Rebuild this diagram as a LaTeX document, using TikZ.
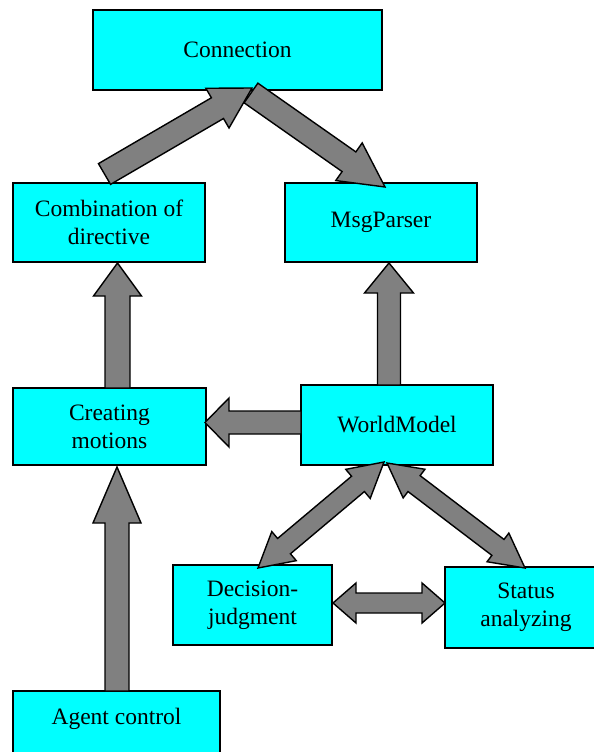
\documentclass[tikz,border=0pt]{standalone}
\usepackage{fontspec}
\setmainfont{Liberation Serif}
\usetikzlibrary{calc}
\definecolor{boxcyan}{HTML}{00FFFF}
\definecolor{arrgray}{HTML}{808080}
\tikzset{
  box/.style={draw=black, line width=1.8pt, fill=boxcyan, inner sep=0pt, align=center,
    font=\fontsize{23.5}{28}\selectfont},
  fatarrow/.style={draw=black, line width=1.4pt, fill=arrgray, line join=miter},
}
\newcommand\blockarrow[5]{%
  \coordinate (hbA) at ($(#2)!#5!(#1)$);
  \draw[fatarrow] ($(#1)!#3!90:(#2)$) -- ($(hbA)!#3!90:(#2)$) -- ($(hbA)!#4!90:(#2)$) -- (#2)
    -- ($(hbA)!#4!-90:(#2)$) -- ($(hbA)!#3!-90:(#2)$) -- ($(#1)!#3!-90:(#2)$) -- cycle;}
\newcommand\dblarrow[5]{%
  \coordinate (hbA) at ($(#2)!#5!(#1)$);
  \coordinate (hbB) at ($(#1)!#5!(#2)$);
  \draw[fatarrow] (#1) -- ($(hbB)!#4!90:(#2)$) -- ($(hbB)!#3!90:(#2)$) -- ($(hbA)!#3!90:(#2)$)
    -- ($(hbA)!#4!90:(#2)$) -- (#2) -- ($(hbA)!#4!-90:(#2)$) -- ($(hbA)!#3!-90:(#2)$)
    -- ($(hbB)!#3!-90:(#2)$) -- ($(hbB)!#4!-90:(#2)$) -- cycle;}
\begin{document}
\begin{tikzpicture}[x=1pt, y=-1pt]
\useasboundingbox (0,0) rectangle (594,752);
\clip (0,0) rectangle (594,752);
% boxes
\node[box, minimum width=289pt, minimum height=80pt] (con) at (237.5,50) {Connection};
\node[box, minimum width=192pt, minimum height=79pt] (cd) at (109,222.5) {Combination of\\directive};
\node[box, minimum width=192pt, minimum height=79pt] (mp) at (381,222.5) {MsgParser};
\node[box, minimum width=193pt, minimum height=77pt] (cm) at (109.5,426.5) {Creating\\motions};
\node[box, minimum width=192pt, minimum height=80pt] (wm) at (397,425) {WorldModel};
\node[box, minimum width=159pt, minimum height=80pt] (dj) at (252.5,605) {Decision-\\judgment};
\node[box, minimum width=162pt, minimum height=81pt] (sa) at (526,607.5) {Status\\analyzing};
\node[box, minimum width=207pt, minimum height=80pt,
      label={[font=\fontsize{23.5}{28}\selectfont, yshift=12pt]center:Agent control}] (ac) at (116.5,731) {};
% arrow end points
\coordinate (a1s) at (104.5,174);  \coordinate (a1e) at (252,88);
\coordinate (a2s) at (251,93);     \coordinate (a2e) at (385,187);
\coordinate (a3s) at (389,385);    \coordinate (a3e) at (389,263);
\coordinate (a4s) at (117.5,388);  \coordinate (a4e) at (117.5,263);
\coordinate (a5s) at (301,422.5);  \coordinate (a5e) at (205,422.5);
\coordinate (a6s) at (117,691);    \coordinate (a6e) at (117,467);
\coordinate (a7s) at (384,462);    \coordinate (a7e) at (258,568);
\coordinate (a8s) at (387,463);    \coordinate (a8e) at (525,568);
\coordinate (a9s) at (333,603);    \coordinate (a9e) at (445,603);
% arrows
\blockarrow{a1s}{a1e}{12pt}{23pt}{40pt}
\blockarrow{a2s}{a2e}{12pt}{23pt}{44pt}
\blockarrow{a3s}{a3e}{11.5pt}{24.5pt}{30pt}
\blockarrow{a4s}{a4e}{12.5pt}{24pt}{33pt}
\blockarrow{a5s}{a5e}{11.5pt}{24.5pt}{24pt}
\blockarrow{a6s}{a6e}{12pt}{24pt}{56pt}
\dblarrow{a7s}{a7e}{10pt}{19pt}{34pt}
\dblarrow{a8s}{a8e}{10pt}{18pt}{34pt}
\dblarrow{a9s}{a9e}{10pt}{20pt}{23pt}
\end{tikzpicture}
\end{document}
